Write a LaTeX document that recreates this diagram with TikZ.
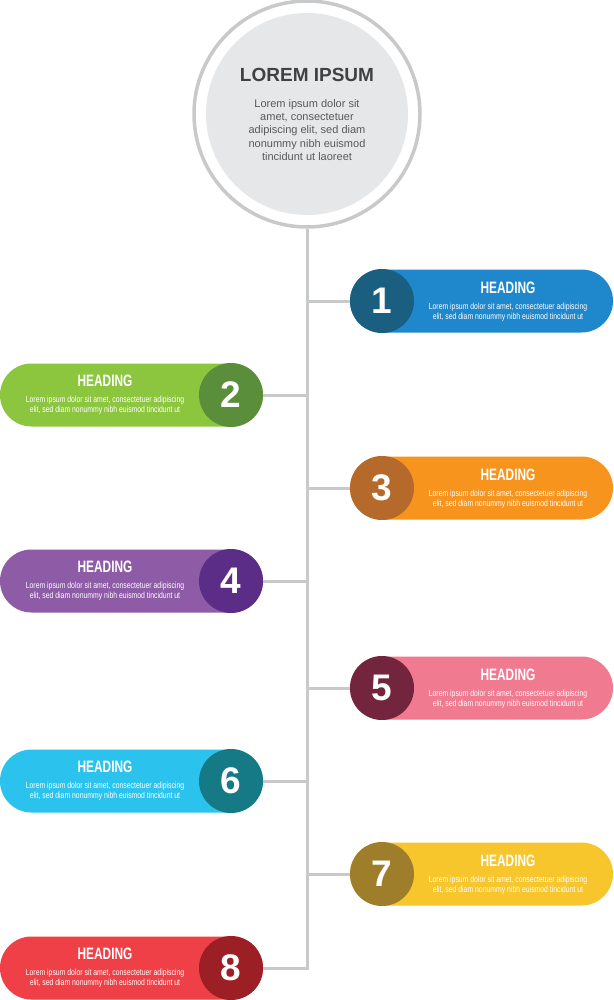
\documentclass[tikz,border=0pt]{standalone}
\usepackage{fontspec}
\setmainfont{Liberation Sans}
\newfontfamily\headfont[FakeStretch=0.72]{Liberation Sans}
\newfontfamily\blurbfont[FakeStretch=0.78]{Liberation Sans}
\usetikzlibrary{positioning}

\definecolor{spinegray}{HTML}{C8C9CB}
\definecolor{hubfill}{HTML}{E6E7E8}
\definecolor{hubtitle}{HTML}{414042}
\definecolor{hubtext}{HTML}{58595B}
\definecolor{pillA}{HTML}{1F87CC}
\definecolor{dotA}{HTML}{1A5E80}
\definecolor{pillB}{HTML}{8CC63F}
\definecolor{dotB}{HTML}{5B8E3A}
\definecolor{pillC}{HTML}{F7941E}
\definecolor{dotC}{HTML}{B5692A}
\definecolor{pillD}{HTML}{8E5BA6}
\definecolor{dotD}{HTML}{5C2D86}
\definecolor{pillE}{HTML}{F07A90}
\definecolor{dotE}{HTML}{73253D}
\definecolor{pillF}{HTML}{2BC3EE}
\definecolor{dotF}{HTML}{157A86}
\definecolor{pillG}{HTML}{F6C62C}
\definecolor{dotG}{HTML}{9E7E2B}
\definecolor{pillH}{HTML}{EE4046}
\definecolor{dotH}{HTML}{9B1F25}

\begin{document}
\begin{tikzpicture}[x=1pt, y=-1pt,
    pill/.style={fill=#1, rounded corners=31.5pt, minimum width=263pt, minimum height=63pt, inner sep=0pt},
    numdot/.style={circle, fill=#1, minimum size=64pt, inner sep=0pt, text=white, font=\bfseries\fontsize{37}{37}\selectfont},
    heading/.style={text=white, inner sep=0pt, font=\headfont\bfseries\fontsize{16.5}{16.5}\selectfont},
    blurb/.style={text=white, align=center, inner sep=0pt, font=\blurbfont\fontsize{8.8}{10}\selectfont},
    branch/.style={draw=spinegray, line width=3pt}]
	\useasboundingbox (0,0) rectangle (613,1000);
	% central circle
	\node (hub) [circle, draw=spinegray, line width=3.5pt, fill=white, minimum size=226pt] at (307,114) {};
	\node (hubin) [circle, fill=hubfill, minimum size=202pt] at (307,114) {};
	\node (hubhead) [text=hubtitle, font=\bfseries\fontsize{19}{19}\selectfont] at (307,75) {LOREM IPSUM};
	\node (hubbody) [text=hubtext, align=center, font=\fontsize{11}{13.4}\selectfont] at (307,130)
	  {Lorem ipsum dolor sit\\amet, consectetuer\\adipiscing elit, sed diam\\nonummy nibh euismod\\tincidunt ut laoreet};
	% items
	\node (p1) [pill=pillA] at (481.5,301) {};
	\node (n1) [numdot=dotA] at (382,301) {1};
	\node (h1) [heading] at (508,288) {HEADING};
	\node (b1) [blurb] at (508,312) {Lorem ipsum dolor sit amet, consectetuer adipiscing\\elit, sed diam nonummy nibh euismod tincidunt ut};
	\node (p2) [pill=pillB] at (131.5,395) {};
	\node (n2) [numdot=dotB] at (231,395) {2};
	\node (h2) [heading] at (105,381) {HEADING};
	\node (b2) [blurb] at (105,405) {Lorem ipsum dolor sit amet, consectetuer adipiscing\\elit, sed diam nonummy nibh euismod tincidunt ut};
	\node (p3) [pill=pillC] at (481.5,488) {};
	\node (n3) [numdot=dotC] at (382,488) {3};
	\node (h3) [heading] at (508,475) {HEADING};
	\node (b3) [blurb] at (508,499) {Lorem ipsum dolor sit amet, consectetuer adipiscing\\elit, sed diam nonummy nibh euismod tincidunt ut};
	\node (p4) [pill=pillD] at (131.5,581) {};
	\node (n4) [numdot=dotD] at (231,581) {4};
	\node (h4) [heading] at (105,567) {HEADING};
	\node (b4) [blurb] at (105,591) {Lorem ipsum dolor sit amet, consectetuer adipiscing\\elit, sed diam nonummy nibh euismod tincidunt ut};
	\node (p5) [pill=pillE] at (481.5,688) {};
	\node (n5) [numdot=dotE] at (382,688) {5};
	\node (h5) [heading] at (508,675) {HEADING};
	\node (b5) [blurb] at (508,699) {Lorem ipsum dolor sit amet, consectetuer adipiscing\\elit, sed diam nonummy nibh euismod tincidunt ut};
	\node (p6) [pill=pillF] at (131.5,781) {};
	\node (n6) [numdot=dotF] at (231,781) {6};
	\node (h6) [heading] at (105,767) {HEADING};
	\node (b6) [blurb] at (105,791) {Lorem ipsum dolor sit amet, consectetuer adipiscing\\elit, sed diam nonummy nibh euismod tincidunt ut};
	\node (p7) [pill=pillG] at (481.5,874) {};
	\node (n7) [numdot=dotG] at (382,874) {7};
	\node (h7) [heading] at (508,861) {HEADING};
	\node (b7) [blurb] at (508,885) {Lorem ipsum dolor sit amet, consectetuer adipiscing\\elit, sed diam nonummy nibh euismod tincidunt ut};
	\node (p8) [pill=pillH] at (131.5,968) {};
	\node (n8) [numdot=dotH] at (231,968) {8};
	\node (h8) [heading] at (105,954) {HEADING};
	\node (b8) [blurb] at (105,978) {Lorem ipsum dolor sit amet, consectetuer adipiscing\\elit, sed diam nonummy nibh euismod tincidunt ut};
	% spine and branches
	\coordinate (spineend) at (hub.south |- n8);
	\draw[branch] (hub.south) -- (spineend) -- (n8);
	\draw[branch] (hub.south |- n1) -- (n1);
	\draw[branch] (hub.south |- n2) -- (n2);
	\draw[branch] (hub.south |- n3) -- (n3);
	\draw[branch] (hub.south |- n4) -- (n4);
	\draw[branch] (hub.south |- n5) -- (n5);
	\draw[branch] (hub.south |- n6) -- (n6);
	\draw[branch] (hub.south |- n7) -- (n7);
\end{tikzpicture}
\end{document}
